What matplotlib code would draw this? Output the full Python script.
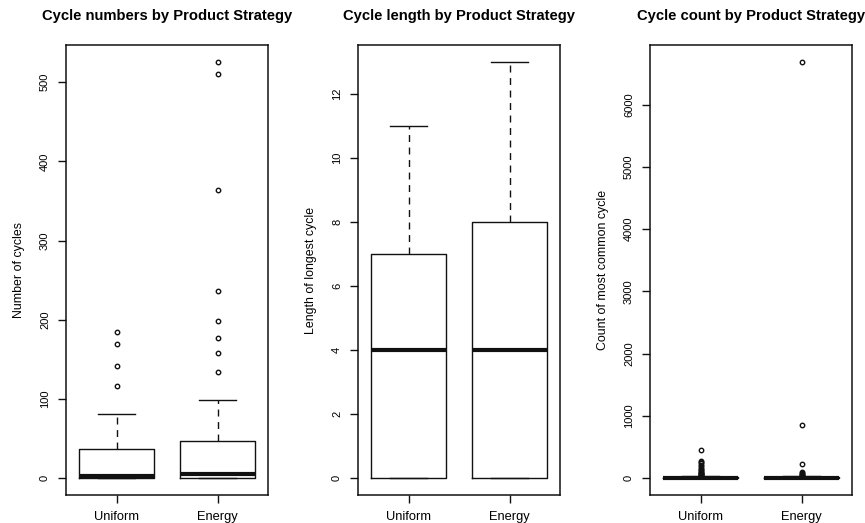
import matplotlib
matplotlib.use("Agg")
import matplotlib.pyplot as plt

plt.rcParams['font.family'] = ['Liberation Sans', 'DejaVu Sans']

strategies = ["Uniform", "Energy"]

# Cycle numbers
num_q1 = [0, 0]
num_med = [3, 5]
num_q3 = [37, 47]
num_whislo = [0, 0]
num_whishi = [81, 99]
num_fliers = [
    [116, 142, 169, 185],
    [134, 158, 177, 199, 237, 364, 511, 526],
]

# Length of longest cycle
len_q1 = [0, 0]
len_med = [4, 4]
len_q3 = [7, 8]
len_whislo = [0, 0]
len_whishi = [11, 13]
len_fliers = [[], []]

# Count of most common cycle
cnt_q1 = [0, 0]
cnt_med = [3, 3]
cnt_q3 = [15, 14]
cnt_whislo = [0, 0]
cnt_whishi = [38, 35]
cnt_fliers = [
    [42, 48, 55, 62, 70, 80, 92, 105, 120, 135, 150, 170, 190, 215, 240, 265, 280, 459],
    [40, 48, 58, 70, 85, 100, 237, 864, 6690],
]

titles = ["Cycle numbers by Product Strategy",
          "Cycle length by Product Strategy",
          "Cycle count by Product Strategy"]
ylabels = ["Number of cycles", "Length of longest cycle", "Count of most common cycle"]
yticks = [range(0, 501, 100), range(0, 13, 2), range(0, 6001, 1000)]


def make_stats(q1, med, q3, lo, hi, fl):
    return [dict(q1=q1[i], med=med[i], q3=q3[i], whislo=lo[i], whishi=hi[i],
                 fliers=fl[i], label=strategies[i]) for i in range(len(strategies))]


panels = [
    make_stats(num_q1, num_med, num_q3, num_whislo, num_whishi, num_fliers),
    make_stats(len_q1, len_med, len_q3, len_whislo, len_whishi, len_fliers),
    make_stats(cnt_q1, cnt_med, cnt_q3, cnt_whislo, cnt_whishi, cnt_fliers),
]

W, H = 865, 523
fig = plt.figure(figsize=(W / 100, H / 100), dpi=100)
lefts = [66, 358, 650]
ax_w, top_px, bot_px = 202, 45, 495

for k, stats in enumerate(panels):
    ax = fig.add_axes([lefts[k] / W, 1 - bot_px / H, ax_w / W, (bot_px - top_px) / H])
    ax.bxp(stats, positions=[1, 2], widths=0.75, showfliers=True,
           boxprops=dict(color="#111111", linewidth=1.0),
           whiskerprops=dict(color="#111111", linewidth=1.0, linestyle=(0, (5, 4))),
           capprops=dict(color="#111111", linewidth=1.0),
           capwidths=0.375,
           medianprops=dict(color="#111111", linewidth=3.0, solid_capstyle="butt"),
           flierprops=dict(marker="o", markersize=3.2, markerfacecolor="none",
                           markeredgecolor="#111111", markeredgewidth=1.0))
    # data range padded by 4% as in a classic boxplot
    vals = []
    for s in stats:
        vals += [s["whislo"], s["whishi"]] + list(s["fliers"])
    lo, hi = min(vals), max(vals)
    pad = 0.04 * (hi - lo)
    ax.set_ylim(lo - pad, hi + pad)
    ax.set_xlim(0.5, 2.5)
    ax.set_yticks(list(yticks[k]))
    ax.set_yticklabels([str(v) for v in yticks[k]], rotation=90, va="center", fontsize=8)
    ax.set_xticks([1, 2])
    ax.set_xticklabels(strategies, fontsize=9.3)
    ax.tick_params(axis="both", direction="out", length=6, width=1.0, color="#111111")
    ax.tick_params(axis="y", pad=5.5)
    ax.tick_params(axis="x", pad=5.5)
    for sp in ax.spines.values():
        sp.set_linewidth(1.1)
        sp.set_color("#111111")
    ax.set_ylabel(ylabels[k], fontsize=8.9, labelpad=11)
    ax.set_title(titles[k], fontsize=10.6, fontweight="bold", pad=18)

fig.savefig("out.png", dpi=100)
